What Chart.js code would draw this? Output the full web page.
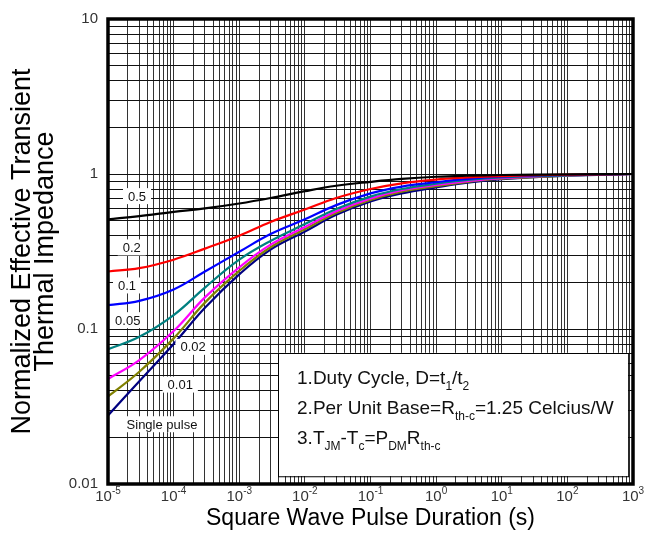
<!DOCTYPE html>
<html><head><meta charset="utf-8">
<script src="https://cdn.jsdelivr.net/npm/chart.js@4.4.1/dist/chart.umd.min.js"></script>
<style>html,body{margin:0;padding:0;background:#fff}</style>
</head><body>
<canvas id="c" width="645" height="546"></canvas>
<script>
// ── data ──
const pulseT=[1e-5,3e-5,1e-4,3e-4,1e-3,3e-3,1e-2,3e-2,0.1,0.3,1,3,10,100,1000];
const zD050=[0.51,0.535,0.57,0.60,0.645,0.70,0.775,0.84,0.89,0.93,0.96,0.975,0.985,0.995,1.0];
const zD020=[0.235,0.247,0.28,0.33,0.40,0.49,0.59,0.70,0.80,0.87,0.92,0.95,0.97,0.99,1.0];
const zD010=[0.1425,0.152,0.18,0.235,0.315,0.41,0.51,0.63,0.75,0.83,0.885,0.93,0.96,0.985,1.0];
const zD005=[0.074,0.089,0.123,0.185,0.28,0.37,0.475,0.595,0.715,0.80,0.865,0.915,0.95,0.98,1.0];
const zD002=[0.0476,0.063,0.097,0.16,0.25,0.35,0.455,0.575,0.695,0.785,0.85,0.90,0.94,0.98,1.0];
const zD001=[0.0367,0.053,0.087,0.148,0.237,0.337,0.44,0.56,0.68,0.77,0.835,0.89,0.932,0.977,1.0];
const zSingle=[0.0277,0.046,0.080,0.137,0.225,0.325,0.425,0.545,0.665,0.75,0.82,0.88,0.925,0.975,1.0];

const curveLabels=['0.5','0.2','0.1','0.05','0.02','0.01','Single pulse'];
const labelT=[2.77e-5,2.3e-5,1.95e-5,2.0e-5,1.98e-4,1.26e-4,6.65e-5];
const labelZ=[0.72,0.336,0.191,0.114,0.0767,0.0438,0.0243];

const xDecades=[-5,-4,-3,-2,-1,0,1,2,3];
const yDecades=[-2,-1,0,1];
const yTickText={'-2':'0.01','-1':'0.1','0':'1','1':'10'};

const noteLines=[
  [['1.Duty Cycle, D=t',0],['1',1],['/t',0],['2',1]],
  [['2.Per Unit Base=R',0],['th-c',1],['=1.25 Celcius/W',0]],
  [['3.T',0],['JM',1],['-T',0],['c',1],['=P',0],['DM',1],['R',0],['th-c',1]]
];
const noteBox={t0:3.9e-3,t1:845,z0:0.01125,z1:0.0702};

const FONT='"Liberation Sans", Arial, sans-serif';

function logTicks(decs){
  const out=[];
  decs.forEach((e,i)=>{
    const last=i===decs.length-1;
    for(let d=1;d<=(last?1:9);d++)out.push({value:d*Math.pow(10,e)});
  });
  return out;
}
const isPow=v=>Math.abs(Math.log10(v)-Math.round(Math.log10(v)))<1e-9;

const series=[
  {lab:'D=0.5',col:'#000000',v:zD050},
  {lab:'D=0.2',col:'#ff0000',v:zD020},
  {lab:'D=0.1',col:'#0000ff',v:zD010},
  {lab:'D=0.05',col:'#008080',v:zD005},
  {lab:'D=0.02',col:'#ff00ff',v:zD002},
  {lab:'D=0.01',col:'#808000',v:zD001},
  {lab:'Single pulse',col:'#000080',v:zSingle}
];

// ── overlays: note box, curve labels, x tick labels, frame ──
const overlay={
  id:'overlay',
  beforeDatasetsDraw(chart){
    const {ctx,scales:{x,y}}=chart;
    const L=x.getPixelForValue(noteBox.t0),R=x.getPixelForValue(noteBox.t1);
    const T=y.getPixelForValue(noteBox.z1),B=y.getPixelForValue(noteBox.z0);
    ctx.save();
    ctx.fillStyle='#fff';ctx.fillRect(L,T,R-L,B-T);
    ctx.strokeStyle='#000';ctx.lineWidth=1;ctx.strokeRect(Math.round(L)+0.5,Math.round(T)+0.5,R-L,B-T);
    ctx.fillStyle='#111';ctx.textBaseline='alphabetic';
    noteLines.forEach((runs,i)=>{
      let px=L+19;const py=T+31+i*30;
      runs.forEach(([s,sub])=>{
        ctx.font=(sub?'12px ':'19px ')+FONT;
        ctx.fillText(s,px,py+(sub?6:0));
        px+=ctx.measureText(s).width;
      });
    });
    ctx.restore();
  },
  afterDatasetsDraw(chart){
    const {ctx,scales:{x,y}}=chart;
    ctx.save();
    ctx.font='13px '+FONT;ctx.textBaseline='middle';ctx.textAlign='center';
    curveLabels.forEach((s,i)=>{
      const px=x.getPixelForValue(labelT[i]),py=y.getPixelForValue(labelZ[i]);
      const w=ctx.measureText(s).width;
      ctx.fillStyle='#fff';ctx.fillRect(px-w/2-5,py-8,w+10,16);
      ctx.fillStyle='#111';ctx.fillText(s,px,py+1);
    });
    ctx.restore();
  },
  afterDraw(chart){
    const {ctx,chartArea:a,scales:{x}}=chart;
    ctx.save();
    ctx.strokeStyle='#000';ctx.lineWidth=3.5;
    ctx.strokeRect(a.left,a.top,a.right-a.left,a.bottom-a.top);
    ctx.fillStyle='#333';ctx.textBaseline='middle';
    xDecades.forEach(e=>{
      const px=x.getPixelForValue(Math.pow(10,e));
      ctx.font='15px '+FONT;const wb=ctx.measureText('10').width;
      ctx.font='10px '+FONT;const ws=ctx.measureText(String(e)).width;
      const x0=px-(wb+ws)/2;
      ctx.font='15px '+FONT;ctx.fillText('10',x0,a.bottom+13);
      ctx.font='10px '+FONT;ctx.fillText(String(e),x0+wb,a.bottom+7);
    });
    ctx.restore();
  }
};

new Chart(document.getElementById('c'),{
  type:'line',
  data:{datasets:series.map(s=>({
    label:s.lab,
    data:pulseT.map((t,i)=>({x:t,y:s.v[i]})),
    borderColor:s.col,borderWidth:2.2,pointRadius:0,fill:false,
    tension:0.4
  }))},
  options:{
    responsive:false,animation:false,
    layout:{padding:{top:16,right:12,left:0,bottom:0}},
    plugins:{legend:{display:false},tooltip:{enabled:false}},
    scales:{
      x:{type:'logarithmic',min:1e-5,max:1e3,
        afterBuildTicks:s=>{s.ticks=logTicks(xDecades);},
        afterFit:s=>{s.height=62;},
        grid:{color:'#333',lineWidth:1,drawTicks:false},
        border:{display:false},
        ticks:{display:false},
        title:{display:true,text:'Square Wave Pulse Duration (s)',color:'#000',
          font:{family:FONT,size:23},padding:{top:0,bottom:14}}
      },
      y:{type:'logarithmic',min:0.01,max:10,
        afterBuildTicks:s=>{s.ticks=logTicks(yDecades);},
        afterFit:s=>{s.width=108;},
        grid:{color:'#111',lineWidth:1,drawTicks:false},
        border:{display:false},
        ticks:{autoSkip:false,padding:10,color:'#333',font:{family:FONT,size:15},
          callback:v=>isPow(v)?yTickText[String(Math.round(Math.log10(v)))]:''},
        title:{display:true,text:['Normalized Effective Transient','Thermal Impedance'],color:'#000',
          font:{family:FONT,size:27,lineHeight:0.86},padding:{top:11,bottom:0}}
      }
    }
  },
  plugins:[overlay]
});
</script>
</body></html>
